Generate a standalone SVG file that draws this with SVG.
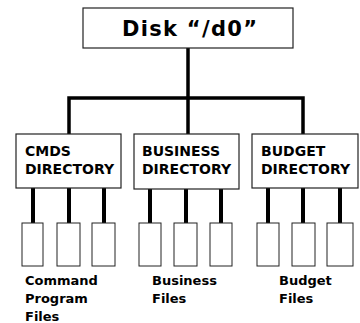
<svg xmlns="http://www.w3.org/2000/svg" width="360" height="323" viewBox="0 0 360 323">
<style>
.box{fill:#fff;stroke:#222;stroke-width:1.2}
.file{fill:#fff;stroke:#222;stroke-width:1}
.ln{stroke:#000;fill:none;stroke-linecap:butt}
.t{font-family:"DejaVu Sans",sans-serif;font-weight:bold;fill:#000}
.dir{font-size:14px}
.lab{font-size:13px}
</style>
<rect width="360" height="323" fill="#fff"/>
<g id="connectors">
<path class="ln" stroke-width="3.5" d="M188 48V134"/>
<path class="ln" stroke-width="3.5" d="M69 134V98H303V134"/>
<path class="ln" stroke-width="4" d="M33 188V223M69 188V223M104 188V223"/>
<path class="ln" stroke-width="4" d="M150 189V223M186 189V223M221 189V223"/>
<path class="ln" stroke-width="4" d="M268 188V223M303 188V223M340 188V223"/>
</g>
<g id="disk">
<rect class="box" x="83" y="8" width="210" height="40"/>
<text class="t" x="122" y="36" font-size="21" textLength="135" lengthAdjust="spacing">Disk “/d0”</text>
</g>
<g id="cmds">
<rect class="box" x="16" y="134" width="105" height="54"/>
<text class="t dir" x="25" y="156">CMDS</text>
<text class="t dir" x="25" y="174">DIRECTORY</text>
</g>
<g id="business">
<rect class="box" x="134" y="134" width="105" height="55"/>
<text class="t dir" x="142" y="156">BUSINESS</text>
<text class="t dir" x="142" y="174">DIRECTORY</text>
</g>
<g id="budget">
<rect class="box" x="252" y="134" width="106" height="54"/>
<text class="t dir" x="261" y="156">BUDGET</text>
<text class="t dir" x="261" y="174">DIRECTORY</text>
</g>
<g id="cmd-files">
<rect class="file" x="22" y="223" width="21" height="43"/>
<rect class="file" x="57" y="223" width="23" height="43"/>
<rect class="file" x="92" y="223" width="23" height="43"/>
<text class="t lab" x="25" y="285">Command</text>
<text class="t lab" x="25" y="303">Program</text>
<text class="t lab" x="25" y="321">Files</text>
</g>
<g id="business-files">
<rect class="file" x="139" y="223" width="22" height="43"/>
<rect class="file" x="174" y="223" width="23" height="43"/>
<rect class="file" x="210" y="223" width="22" height="43"/>
<text class="t lab" x="152" y="285">Business</text>
<text class="t lab" x="152" y="303">Files</text>
</g>
<g id="budget-files">
<rect class="file" x="257" y="223" width="22" height="43"/>
<rect class="file" x="292" y="223" width="23" height="43"/>
<rect class="file" x="327" y="223" width="26" height="43"/>
<text class="t lab" x="279" y="285">Budget</text>
<text class="t lab" x="279" y="303">Files</text>
</g>
</svg>
